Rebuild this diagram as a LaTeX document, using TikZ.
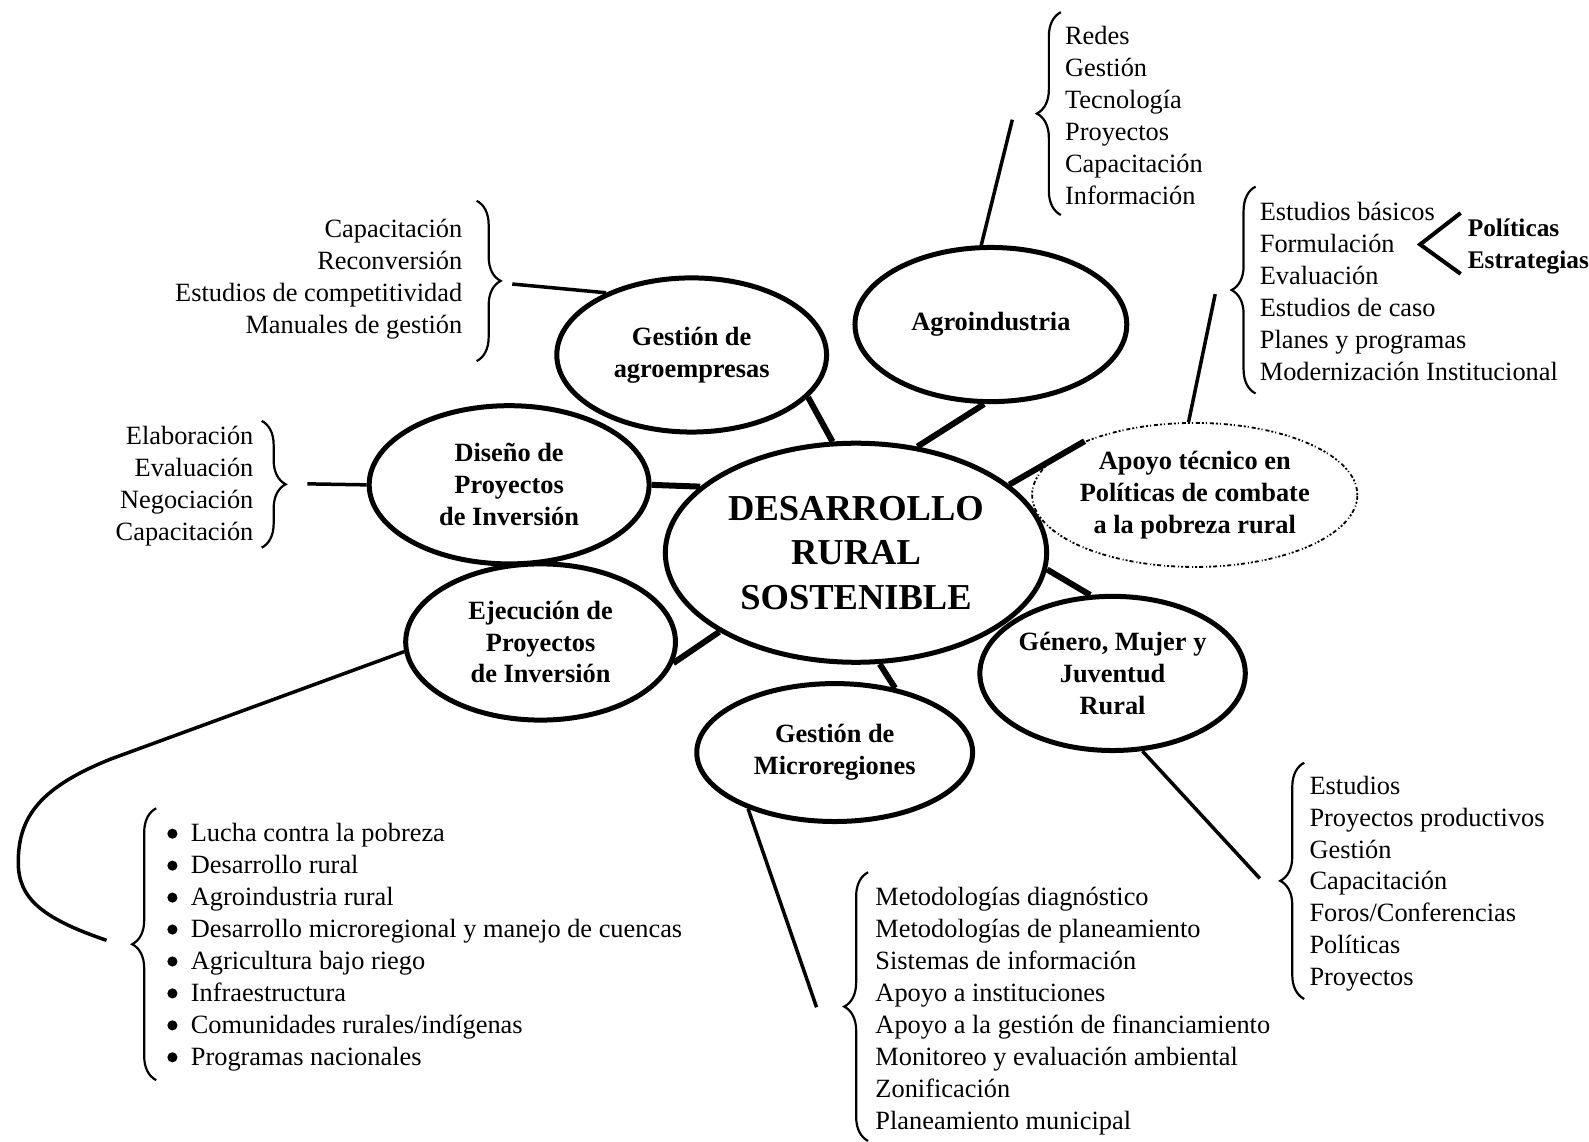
\documentclass[tikz,border=0pt]{standalone}
\usepackage{fontspec}
\setmainfont{Liberation Serif}
\usetikzlibrary{shapes.geometric,decorations.pathreplacing}
\newcommand\listfont{\fontsize{26}{31.5}\selectfont}
\newcommand\bubfont{\fontsize{26}{31.5}\selectfont\bfseries}
\newcommand\bigbubfont{\fontsize{36}{44}\selectfont\bfseries}
\begin{document}
\begin{tikzpicture}[x=1pt,y=-1pt,scale=1.0142,
  every node/.append style={transform shape},
  bub/.style={ellipse, draw, line width=5pt, fill=white, inner sep=0pt, align=center, font=\bubfont},
  thicklink/.style={line width=6pt},
  thinlink/.style={line width=3.5pt},
  bracestyle/.style={decorate, decoration={brace, amplitude=24pt}, line width=2.2pt},
  itemL/.style={anchor=base west, inner sep=0pt, font=\listfont},
  itemR/.style={anchor=base east, inner sep=0pt, font=\listfont},
  itemB/.style={anchor=base west, inner sep=0pt, font=\fontsize{25}{31.5}\selectfont\bfseries}]
\fill[white] (0,0) rectangle (1566.75,1125.03);
\useasboundingbox (0,0) rectangle (1566.75,1125.03);

% ellipses
\node[bub, minimum width=376pt, minimum height=216pt, font=\bigbubfont] (central) at (844,545) {DESARROLLO\\RURAL\\SOSTENIBLE};
\node[bub, minimum width=268pt, minimum height=152pt] (agro) at (977,320) {Agroindustria};
\node[bub, minimum width=266pt, minimum height=152pt] (agroemp) at (682,350) {Gestión de\\agroempresas};
\node[bub, minimum width=276pt, minimum height=156pt] (diseno) at (502,478) {Diseño de\\Proyectos\\de Inversión};
\node[bub, minimum width=266pt, minimum height=154pt] (ejec) at (533,633) {Ejecución de\\Proyectos\\de Inversión};
\node[bub, minimum width=272pt, minimum height=136pt] (micro) at (823,742) {Gestión de\\Microregiones};
\node[bub, minimum width=256pt, minimum height=152pt] (genero) at (1097,664) {Género, Mujer y\\Juventud\\Rural};
\node[bub, line width=1.8pt, dash pattern=on 2pt off 2pt on 4pt off 3pt on 1pt off 2pt, minimum width=272pt, minimum height=142pt] (apoyo) at (1178,488) {Apoyo técnico en\\Políticas de combate\\a la pobreza rural};

% thick connectors to centre
\draw[thicklink] (central.60) -- (agro.-95);
\draw[thicklink] (central.102) -- (agroemp.-20);
\draw[thicklink] (central.157) -- (diseno.0);
\draw[thicklink] (central.210) -- (ejec.-9);
\draw[thicklink] (central.-78) -- (micro.47);
\draw[thicklink] (central.-5) -- (genero.106);
\draw[thicklink] (central.24) -- (apoyo.154);

% thin connectors to lists
\coordinate (redesE) at (998,118);
\coordinate (agroempE) at (505,280);
\coordinate (disenoE) at (303,477);
\coordinate (ejecA) at (110,748);
\coordinate (ejecM) at (18,850);
\coordinate (ejecE) at (105,927);
\coordinate (microE) at (805,993);
\coordinate (generoE) at (1242,866);
\coordinate (apoyoE) at (1198,290);
\draw[thinlink] (agro.97) -- (redesE);
\draw[thinlink] (agroemp.144) -- (agroempE);
\draw[thinlink] (diseno.180) -- (disenoE);
\draw[thinlink, line join=round] (ejec.184) -- (ejecA) .. controls (40,776) and (18,805) .. (ejecM) .. controls (18,885) and (40,905) .. (ejecE);
\draw[thinlink] (micro.213) -- (microE);
\draw[thinlink] (genero.-69) -- (generoE);
\draw[thinlink] (apoyo.95) -- (apoyoE);

% braces
\draw[bracestyle] (1046,212) -- (1046,12);
\draw[bracestyle] (1238,388) -- (1238,184);
\draw[bracestyle] (470,198) -- (470,356);
\draw[bracestyle] (258,415) -- (258,540);
\draw[bracestyle] (154,1065) -- (154,797);
\draw[bracestyle] (856,1125) -- (856,860);
\draw[bracestyle] (1286,985) -- (1286,752);

% lists
\foreach \t [count=\i] in {Redes,Gestión,Tecnología,Proyectos,Capacitación,Información}
  \node[itemL] (redes\i) at (1050,{12.4+31.6*\i}) {\t};
\foreach \t [count=\i] in {Estudios básicos,Formulación,Evaluación,Estudios de caso,Planes y programas,Modernización Institucional}
  \node[itemL] (estud\i) at (1242,{185.4+31.6*\i}) {\t};
\foreach \t [count=\i] in {Capacitación,Reconversión,Estudios de competitividad,Manuales de gestión}
  \node[itemR] (agroit\i) at (456,{202.5+31.5*\i}) {\t};
\foreach \t [count=\i] in {Elaboración,Evaluación,Negociación,Capacitación}
  \node[itemR] (disit\i) at (250,{406.5+31.5*\i}) {\t};
\foreach \t [count=\i] in {Lucha contra la pobreza,Desarrollo rural,Agroindustria rural,Desarrollo microregional y manejo de cuencas,Agricultura bajo riego,Infraestructura,Comunidades rurales/indígenas,Programas nacionales}{
  \node[itemL] (bul\i) at (188,{798.5+31.5*\i}) {\t};
  \fill (170,{790.5+31.5*\i}) circle (5pt);}
\foreach \t [count=\i] in {Metodologías diagnóstico,Metodologías de planeamiento,Sistemas de información,Apoyo a instituciones,Apoyo a la gestión de financiamiento,Monitoreo y evaluación ambiental,Zonificación,Planeamiento municipal}
  \node[itemL] (met\i) at (863,{861.5+31.5*\i}) {\t};
\foreach \t [count=\i] in {Estudios,Proyectos productivos,Gestión,Capacitación,Foros/Conferencias,Políticas,Proyectos}
  \node[itemL] (gen\i) at (1291,{751.5+31.5*\i}) {\t};

% Politicas / Estrategias
\coordinate (polA) at (1440,210);
\coordinate (polV) at (1400,241);
\coordinate (polB) at (1440,270);
\draw[line width=4pt] (polA) -- (polV) -- (polB);
\node[itemB] (pol) at (1447,233) {Políticas};
\node[itemB] (estr) at (1447,265) {Estrategias};
\end{tikzpicture}
\end{document}
